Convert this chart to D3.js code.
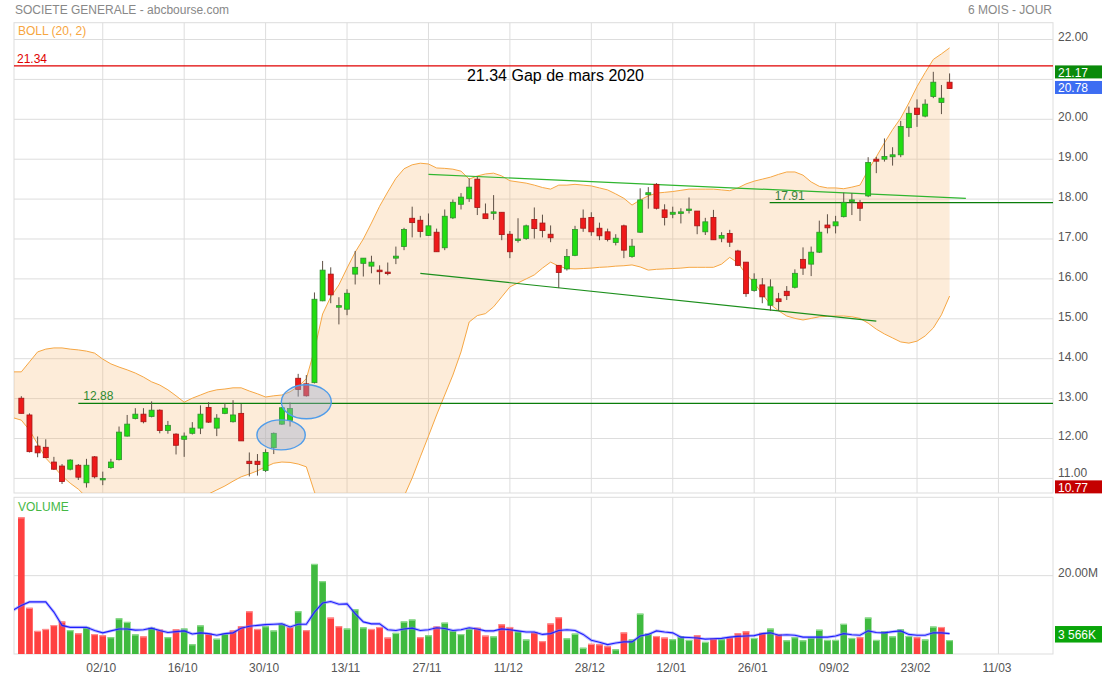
<!DOCTYPE html>
<html>
<head>
<meta charset="utf-8">
<script src="https://cdn.jsdelivr.net/npm/d3@7"></script>
<style>
  body { margin: 0; background: #fff; }
  svg { display: block; font-family: "Liberation Sans", Arial, sans-serif; }
</style>
</head>
<body>
<svg id="chart" width="1102" height="677"></svg>
<script>
// daily sessions, index 0 = 18/09 ... index 114 = 01/03
const opens = [13.01,12.59,11.81,11.78,11.41,11.31,11.23,11.33,10.89,11.54,
  10.98,11.27,11.47,12.06,12.50,12.61,12.55,12.71,12.20,12.11,
  11.98,12.13,12.26,12.78,12.26,12.63,12.42,12.63,11.43,11.43,
  11.20,11.77,12.36,12.45,13.51,13.37,13.40,15.45,16.12,15.29,
  15.24,16.12,16.39,16.32,16.22,16.17,16.52,16.81,17.52,17.47,
  17.09,17.17,16.78,17.53,17.87,18.01,18.50,17.63,17.66,17.67,
  17.12,16.96,17.01,17.49,17.40,17.12,16.34,16.25,16.59,17.52,
  17.54,17.27,17.18,16.91,17.33,16.56,17.17,18.11,18.37,17.73,
  17.62,17.64,17.73,17.70,17.18,17.54,17.02,17.14,16.70,16.42,
  15.71,15.85,15.34,15.50,15.69,15.79,16.49,16.37,16.67,17.35,
  17.33,17.56,17.97,17.91,18.08,19.00,19.00,19.06,19.11,19.79,
  20.28,20.08,20.57,20.42,20.93]
const highs = [13.06,12.63,12.05,11.98,11.54,11.36,11.48,11.36,11.49,11.56,
  11.17,11.49,12.30,12.59,12.76,12.76,12.93,12.73,12.44,12.13,
  12.15,12.41,12.83,12.91,12.61,12.89,12.96,12.87,11.65,11.61,
  11.73,12.15,12.78,12.90,13.62,13.59,15.66,16.45,16.29,15.54,
  15.74,16.70,16.52,16.58,16.34,16.41,16.81,17.28,17.81,17.58,
  17.64,17.26,17.74,17.99,18.15,18.52,18.56,17.89,18.10,17.67,
  17.20,17.52,17.36,17.79,17.61,17.34,16.34,16.75,17.33,17.74,
  17.67,17.41,17.26,17.12,17.36,17.00,18.27,18.30,18.40,17.87,
  17.81,17.77,18.04,17.70,17.53,17.73,17.17,17.23,16.73,16.42,
  16.14,16.02,15.99,15.65,15.82,16.24,16.79,16.81,17.46,17.62,
  17.58,18.16,18.15,17.98,19.05,19.06,19.52,19.30,19.96,20.32,
  20.50,20.50,21.19,20.86,21.15]
const lows = [12.63,11.65,11.53,11.52,11.21,10.86,11.20,10.96,10.77,11.00,
  10.83,11.24,11.45,12.05,12.48,12.38,12.53,12.13,12.12,11.60,
  11.54,12.10,12.11,12.39,12.06,12.61,12.40,11.94,11.05,11.07,
  11.16,11.61,12.34,12.30,13.05,13.05,13.38,15.44,15.39,14.86,
  15.09,15.86,16.06,16.14,15.86,16.09,16.37,16.72,17.04,17.04,
  17.08,16.68,16.72,17.50,17.74,17.93,17.60,17.51,17.48,16.97,
  16.52,16.91,16.98,17.01,17.04,16.92,15.77,16.21,16.57,17.18,
  17.08,16.97,16.94,16.84,16.52,16.53,17.15,17.76,17.74,17.34,
  17.52,17.39,17.64,17.12,17.10,16.98,16.92,16.80,16.32,15.55,
  15.68,15.39,15.20,15.20,15.47,15.76,16.10,16.07,16.65,17.14,
  17.14,17.54,17.60,17.45,18.05,18.65,18.94,18.84,19.05,19.56,
  19.81,20.05,20.53,20.13,20.77]
const closes = [12.63,11.67,11.64,11.52,11.23,10.92,11.46,11.03,11.33,11.04,
  11.00,11.41,12.16,12.36,12.61,12.42,12.71,12.20,12.33,11.83,
  12.06,12.26,12.61,12.41,12.51,12.76,12.59,11.94,11.37,11.35,
  11.65,12.13,12.77,12.75,13.23,13.07,15.49,16.22,15.60,15.33,
  15.64,16.29,16.52,16.42,16.18,16.16,16.57,17.24,17.41,17.19,
  17.33,16.68,17.57,17.92,18.05,18.30,17.79,17.51,17.68,17.11,
  16.68,17.00,17.33,17.26,17.21,17.03,16.16,16.56,17.24,17.27,
  17.18,17.08,16.99,17.02,16.72,16.82,17.98,18.16,17.77,17.54,
  17.67,17.68,17.75,17.33,17.43,16.98,17.09,16.92,16.34,15.63,
  15.99,15.55,15.80,15.43,15.58,16.14,16.27,16.67,17.17,17.28,
  17.43,17.92,17.98,17.77,18.92,18.95,19.07,19.11,19.82,20.15,
  20.12,20.38,20.93,20.53,20.77]
const closeBefore = 13.02   // close of the session before the window

// volume in millions of shares
const volumes = [34.9,11.8,5.9,6.4,7.4,8.3,6.1,5.3,6.8,5.1,
  4.8,4.3,9.1,8.2,5.0,4.5,6.7,6.2,4.3,6.3,
  6.5,2.5,7.3,5.2,3.9,5.2,6.0,7.1,10.9,6.4,
  7.1,6.0,7.7,6.9,10.9,6.1,23.0,18.6,9.3,7.1,
  6.5,11.4,6.8,6.4,6.9,4.2,5.4,8.3,8.8,4.3,
  4.8,7.0,8.0,6.0,5.1,6.5,6.7,4.7,4.5,7.6,
  6.9,5.8,3.7,5.6,3.3,7.8,9.4,4.0,5.2,1.6,
  2.6,2.5,2.0,1.2,5.5,3.7,10.3,5.2,4.6,4.2,
  3.8,4.5,3.6,4.8,3.1,4.0,3.8,4.3,5.3,5.8,
  4.1,5.4,6.5,5.1,3.5,4.3,3.5,4.2,6.2,3.6,
  3.6,7.7,4.1,4.3,9.3,3.6,5.8,4.5,6.3,4.6,
  4.3,3.7,7.0,6.9,3.566]

// the next three start one session earlier (index -1)
const volumeAvg = [11.2,12.4,13.3,13.3,13.3,10.7,7.3,6.8,6.8,6.8,6.0,
  5.4,5.9,6.4,6.4,6.1,6.2,6.6,6.0,5.5,5.7,
  5.9,5.1,5.4,5.2,4.8,5.2,5.4,6.6,7.1,7.3,
  7.5,7.6,7.7,6.9,7.6,7.6,10.7,13.0,13.4,12.7,
  12.8,10.3,8.2,7.7,7.7,6.2,6.0,6.4,6.6,6.0,
  6.2,6.7,6.5,6.0,6.2,6.7,6.4,5.9,5.9,6.4,
  6.2,5.9,5.6,5.6,5.0,5.2,6.0,6.2,6.0,5.0,
  3.5,3.0,2.4,2.8,3.1,3.1,4.6,5.0,5.9,5.6,
  5.4,4.3,4.2,4.1,3.8,3.9,4.0,4.3,4.5,4.6,
  4.7,5.2,5.4,4.8,4.9,4.8,4.3,4.3,4.3,4.3,
  4.6,5.2,4.9,4.8,5.9,5.5,5.4,5.7,5.9,5.0,
  4.8,4.8,5.4,5.4,5.2]
const bollUpper = [13.67,13.67,13.92,14.17,14.24,14.27,14.27,14.24,14.22,14.19,14.14,
  13.99,13.87,13.79,13.72,13.64,13.54,13.42,13.34,13.22,13.07,
  12.91,13.01,13.09,13.17,13.22,13.24,13.27,13.27,13.19,13.12,
  13.04,13.07,13.09,13.17,13.30,13.50,14.22,15.12,15.55,15.85,
  16.27,16.67,17.00,17.40,17.82,18.18,18.52,18.76,18.86,18.90,
  18.88,18.78,18.77,18.75,18.70,18.50,18.58,18.63,18.65,18.58,
  18.46,18.43,18.40,18.35,18.29,18.25,18.35,18.35,18.37,18.35,
  18.33,18.28,18.23,18.13,18.02,17.85,17.98,18.08,18.15,18.17,
  18.19,18.22,18.25,18.25,18.25,18.25,18.23,18.21,18.28,18.38,
  18.45,18.50,18.55,18.62,18.68,18.68,18.60,18.43,18.32,18.28,
  18.28,18.26,18.30,18.35,18.73,19.06,19.41,19.74,20.03,20.41,
  20.82,21.17,21.50,21.64,21.79]
const bollLower = [12.52,12.46,12.21,11.86,11.51,11.29,11.06,10.88,10.73,10.53,10.40,
  10.30,10.25,10.22,10.22,10.24,10.27,10.32,10.38,10.44,10.48,
  10.52,10.55,10.57,10.61,10.71,10.81,10.93,11.04,11.11,11.19,
  11.29,11.38,11.41,11.40,11.36,11.29,10.66,10.20,9.80,9.50,
  9.30,9.20,9.20,9.30,9.50,9.80,10.10,10.55,11.01,11.54,
  12.06,12.59,13.09,13.59,14.17,14.92,15.08,15.13,15.30,15.55,
  15.80,15.90,16.00,16.10,16.27,16.42,16.32,16.26,16.25,16.26,
  16.27,16.29,16.30,16.32,16.33,16.35,16.30,16.22,16.24,16.25,
  16.26,16.27,16.29,16.29,16.29,16.29,16.37,16.54,16.40,16.12,
  15.90,15.62,15.36,15.20,15.07,15.01,14.97,15.01,15.05,15.06,
  15.07,15.07,15.05,15.01,14.89,14.74,14.62,14.52,14.42,14.39,
  14.44,14.57,14.77,15.10,15.57]

const tickIndex = [10,20,30,40,50,60,70,80,90,100,110,120]
const tickLabels = ["02/10","16/10","30/10","13/11","27/11","11/12","28/12","12/01","26/01","09/02","23/02","11/03"]
const priceTicks = [11,12,13,14,15,16,17,18,19,20,21,22]
const volumeTicks = [20]

// drawn annotations, in session index / price units
const levels = [
  {value: 21.34, from: -0.9, label: "21.34", color: "#e00000", text: "#e00000"},
  {value: 12.88, from: 7, label: "12.88", color: "#0a7d0a", text: "#2f8a2f"},
  {value: 17.91, from: 91.9, label: "17.91", color: "#0a7d0a", text: "#3b7f3b"}
]
const trendLines = [
  {i1: 50, p1: 18.62, i2: 116, p2: 18.02, color: "#2fb52f"},
  {i1: 49, p1: 16.14, i2: 105, p2: 14.94, color: "#1c8f1c"}
]
const circles = [
  {i: 31.9, p: 12.09, ri: 2.97, rp: 0.376},
  {i: 35.0, p: 12.92, ri: 3.07, rp: 0.426}
]
const note = {i: 65.6, p: 20.96, text: "21.34 Gap de mars 2020"}
const priceTags = [
  {value: 21.17, color: "#0a8a0a"},
  {value: 20.78, color: "#3d6df2"},
  {value: 10.77, color: "#c40000"}
]
const volumeTag = {value: 3.566, text: "3 566K", color: "#0aa50a"}

const plot = {left: 14, right: 1053, top: 22.7, priceBottom: 493, volTop: 497.3, volBottom: 654}
const gridColor = "#dddddd"

const svg = d3.select("#chart")

const x = d3.scaleLinear().domain([-0.9, 126.7]).range([plot.left, plot.right])
const y = d3.scaleLinear().domain([10.634, 22.421]).range([plot.priceBottom, plot.top])
const yVol = d3.scaleLinear().domain([0, 40]).range([plot.volBottom, plot.volTop])

const defs = svg.append("defs")
defs.append("clipPath").attr("id", "clipPrice").append("rect")
  .attr("x", plot.left).attr("y", plot.top)
  .attr("width", plot.right - plot.left).attr("height", plot.priceBottom - plot.top)
defs.append("clipPath").attr("id", "clipVol").append("rect")
  .attr("x", plot.left).attr("y", plot.volTop)
  .attr("width", plot.right - plot.left).attr("height", plot.volBottom - plot.volTop)

// grid
const grid = svg.append("g").attr("stroke", gridColor).attr("stroke-width", 1)
grid.selectAll(".hp").data(priceTicks).enter().append("line")
  .attr("x1", plot.left).attr("x2", plot.right)
  .attr("y1", d => y(d)).attr("y2", d => y(d))
grid.selectAll(".hv").data(volumeTicks).enter().append("line")
  .attr("x1", plot.left).attr("x2", plot.right)
  .attr("y1", d => yVol(d)).attr("y2", d => yVol(d))
grid.selectAll(".vp").data(tickIndex).enter().append("line")
  .attr("x1", d => x(d)).attr("x2", d => x(d))
  .attr("y1", plot.top).attr("y2", plot.priceBottom)
grid.selectAll(".vv").data(tickIndex).enter().append("line")
  .attr("x1", d => x(d)).attr("x2", d => x(d))
  .attr("y1", plot.volTop).attr("y2", plot.volBottom)
grid.append("rect").attr("fill", "none")
  .attr("x", plot.left).attr("y", plot.top)
  .attr("width", plot.right - plot.left).attr("height", plot.priceBottom - plot.top)
grid.append("rect").attr("fill", "none")
  .attr("x", plot.left).attr("y", plot.volTop)
  .attr("width", plot.right - plot.left).attr("height", plot.volBottom - plot.volTop)

// bollinger band
const price = svg.append("g").attr("clip-path", "url(#clipPrice)")
const band = bollUpper.map((u, k) => ({i: k - 1, u: u, l: bollLower[k]}))
price.append("path").datum(band)
  .attr("fill", "#f8b566").attr("fill-opacity", 0.25)
  .attr("d", d3.area().x(d => x(d.i)).y0(d => y(d.l)).y1(d => y(d.u)))
price.append("path").datum(band)
  .attr("fill", "none").attr("stroke", "#f6a744").attr("stroke-width", 1)
  .attr("d", d3.line().x(d => x(d.i)).y(d => y(d.u)))
price.append("path").datum(band)
  .attr("fill", "none").attr("stroke", "#f6a744").attr("stroke-width", 1)
  .attr("d", d3.line().x(d => x(d.i)).y(d => y(d.l)))

// horizontal levels and trend lines
levels.forEach(lv => {
  price.append("line")
    .attr("x1", x(lv.from)).attr("x2", plot.right)
    .attr("y1", y(lv.value)).attr("y2", y(lv.value))
    .attr("stroke", lv.color).attr("stroke-width", 1.2)
  price.append("text")
    .attr("x", x(lv.from) + (lv.from < 0 ? 3 : 5)).attr("y", y(lv.value) - 3)
    .attr("font-size", 12).attr("fill", lv.text)
    .text(lv.label)
})
trendLines.forEach(t => {
  price.append("line")
    .attr("x1", x(t.i1)).attr("y1", y(t.p1))
    .attr("x2", x(t.i2)).attr("y2", y(t.p2))
    .attr("stroke", t.color).attr("stroke-width", 1.2)
})

// candles
const candles = opens.map((o, i) => ({i: i, o: o, h: highs[i], l: lows[i], c: closes[i]}))
const cg = price.append("g")
cg.selectAll(".wick").data(candles).enter().append("line")
  .attr("x1", d => x(d.i)).attr("x2", d => x(d.i))
  .attr("y1", d => y(d.h)).attr("y2", d => y(d.l))
  .attr("stroke", "#5e5045").attr("stroke-width", 1)
cg.selectAll(".body").data(candles).enter().append("rect")
  .attr("x", d => x(d.i) - 2.5)
  .attr("width", 5)
  .attr("y", d => y(Math.max(d.o, d.c)))
  .attr("height", d => Math.max(1.5, Math.abs(y(d.o) - y(d.c))))
  .attr("fill", d => d.c >= d.o ? "#22dd11" : "#ee1a1a")
  .attr("stroke", d => d.c >= d.o ? "#2f8f2f" : "#a31515")
  .attr("stroke-width", 0.8)

// circled zones
price.selectAll(".zone").data(circles).enter().append("ellipse")
  .attr("cx", d => x(d.i)).attr("cy", d => y(d.p))
  .attr("rx", d => x(d.i + d.ri) - x(d.i)).attr("ry", d => y(d.p - d.rp) - y(d.p))
  .attr("fill", "rgb(155,172,205)").attr("fill-opacity", 0.4)
  .attr("stroke", "#4f9cea").attr("stroke-width", 1.4)

price.append("text")
  .attr("x", x(note.i)).attr("y", y(note.p))
  .attr("text-anchor", "middle").attr("font-size", 16).attr("fill", "#000")
  .text(note.text)

// volume
const vol = svg.append("g").attr("clip-path", "url(#clipVol)")
const volData = volumes.map((v, i) => ({i: i, v: v, up: closes[i] >= (i ? closes[i - 1] : closeBefore)}))
vol.selectAll(".vbar").data(volData).enter().append("rect")
  .attr("x", d => x(d.i) - 3.3).attr("width", 6.6)
  .attr("y", d => yVol(d.v)).attr("height", d => yVol(0) - yVol(d.v))
  .attr("fill", d => d.up ? "#3fba3f" : "#ff4040")
vol.selectAll(".vtop").data(volData).enter().append("rect")
  .attr("x", d => x(d.i) - 3.3).attr("width", 6.6)
  .attr("y", d => yVol(d.v)).attr("height", 1.2)
  .attr("fill", d => d.up ? "#8fdc8f" : "#ff9090")
const avgLine = d3.line().x((d, k) => x(k - 1)).y(d => yVol(d))
vol.append("path").datum(volumeAvg)
  .attr("fill", "none").attr("stroke", "#7a7aff").attr("stroke-opacity", 0.5).attr("stroke-width", 3)
  .attr("d", avgLine)
vol.append("path").datum(volumeAvg)
  .attr("fill", "none").attr("stroke", "#1f1fff").attr("stroke-width", 1.1)
  .attr("d", avgLine)

// axes
const axisY = svg.append("g").attr("transform", "translate(" + plot.right + ",0)")
  .call(d3.axisRight(y).tickValues(priceTicks).tickFormat(d3.format(".2f")).tickSize(0).tickPadding(5))
const axisV = svg.append("g").attr("transform", "translate(" + plot.right + ",0)")
  .call(d3.axisRight(yVol).tickValues(volumeTicks).tickFormat(d => d3.format(".2f")(d) + "M").tickSize(0).tickPadding(5))
const axisX = svg.append("g").attr("transform", "translate(0," + plot.volBottom + ")")
  .call(d3.axisBottom(x).tickValues(tickIndex).tickFormat((d, k) => tickLabels[k]).tickSize(0).tickPadding(9.5))
;[axisY, axisV, axisX].forEach(a => {
  a.select(".domain").remove()
  a.selectAll("text").attr("font-family", "Liberation Sans, Arial, sans-serif")
    .attr("font-size", 12).attr("fill", "#555")
})
axisY.selectAll("text").attr("dy", "0.12em")
axisV.selectAll("text").attr("dy", "0.05em")
axisX.selectAll("text").attr("dx", -2)

// price labels hidden behind a value tag are dropped, ones just above a tag are lifted a bit
const tagTop = t => y(t.value) - 7.2
axisY.selectAll(".tick").each(function (d) {
  const glyphTop = y(d) - 8, glyphBottom = y(d) + 1.5
  const covered = priceTags.some(t => tagTop(t) < glyphBottom - 3 && tagTop(t) + 13 > glyphTop + 3)
  const touching = priceTags.some(t => tagTop(t) >= glyphBottom - 3 && tagTop(t) < glyphBottom + 4)
  if (covered) d3.select(this).remove()
  else if (touching) d3.select(this).select("text").attr("dy", "-0.12em")
})

// value tags on the right
priceTags.forEach(t => {
  const cy = y(t.value)
  svg.append("rect").attr("x", plot.right + 2).attr("y", cy - 7.2)
    .attr("width", 1102 - plot.right - 2).attr("height", 13).attr("fill", t.color)
  svg.append("text").attr("x", plot.right + 5).attr("y", cy + 4.3)
    .attr("font-size", 12).attr("fill", "#fff").text(d3.format(".2f")(t.value))
})
const vy = yVol(volumeTag.value)
svg.append("rect").attr("x", plot.right + 2).attr("y", vy - 14)
  .attr("width", 1102 - plot.right - 2).attr("height", 16.5).attr("fill", volumeTag.color)
svg.append("text").attr("x", plot.right + 5).attr("y", vy - 1.5)
  .attr("font-size", 12).attr("fill", "#fff").text(volumeTag.text)

// titles
svg.append("text").attr("x", 15).attr("y", 13.5).attr("font-size", 12).attr("fill", "#888")
  .text("SOCIETE GENERALE - abcbourse.com")
svg.append("text").attr("x", 1052).attr("y", 13.5).attr("text-anchor", "end")
  .attr("font-size", 12).attr("fill", "#888").text("6 MOIS - JOUR")
svg.append("text").attr("x", 18).attr("y", 35).attr("font-size", 12).attr("fill", "#f7a640")
  .text("BOLL (20, 2)")
svg.append("text").attr("x", 18).attr("y", 510.5).attr("font-size", 12).attr("fill", "#45b845")
  .text("VOLUME")
</script>
</body>
</html>
